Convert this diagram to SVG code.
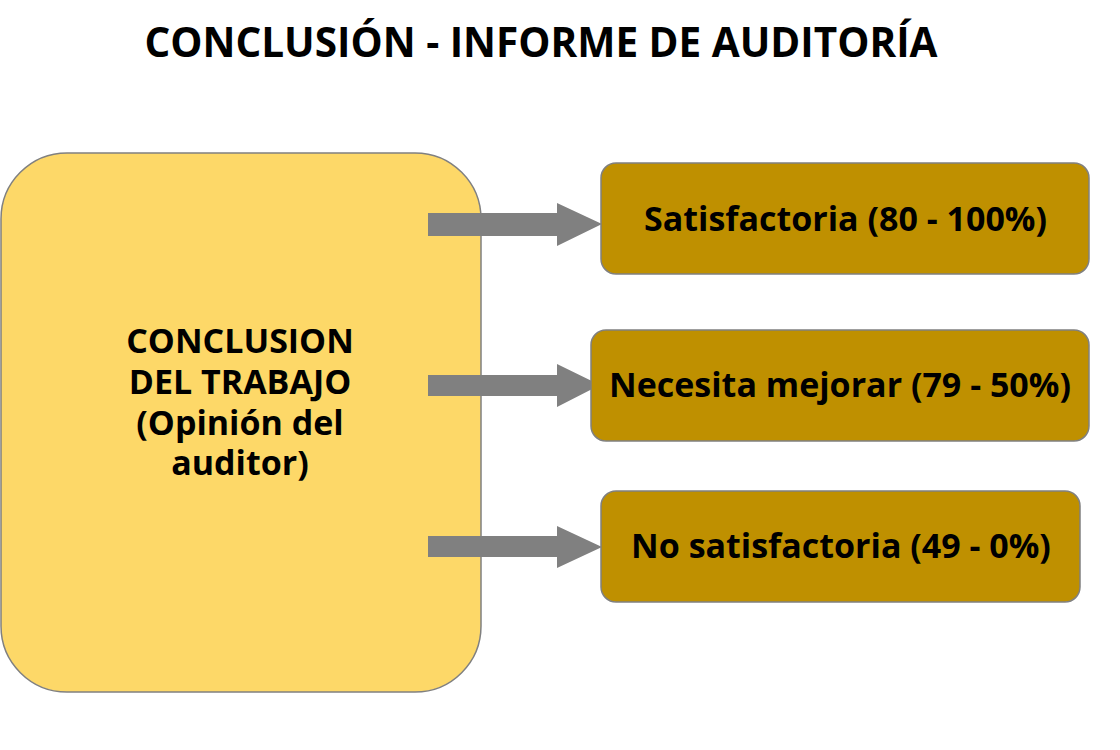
<svg xmlns="http://www.w3.org/2000/svg" width="1120" height="750" viewBox="0 0 1120 750">
<style>
.t{font-family:"Open Sans","Liberation Sans",sans-serif;font-weight:bold;fill:#000;text-anchor:middle}
.main{fill:#fdd868;stroke:#808080;stroke-width:1.5}
.res{fill:#bf9000;stroke:#808080;stroke-width:1.5}
.arr{fill:#808080}
</style>
<rect width="1120" height="750" fill="#fff"/>
<text class="t" x="541" y="57" font-size="40.5">CONCLUSIÓN - INFORME DE AUDITORÍA</text>
<g id="main-node">
<rect class="main" x="1" y="153" width="480" height="539" rx="66" ry="66"/>
<text class="t" x="240" font-size="34"><tspan x="240" y="353">CONCLUSION</tspan><tspan x="240" y="393.5">DEL TRABAJO</tspan><tspan x="240" y="434.5">(Opinión del</tspan><tspan x="240" y="475">auditor)</tspan></text>
</g>
<g id="connectors">
<polygon class="arr" points="428,213 557,213 557,203 602,224 557,246 557,236 428,236"/>
<polygon class="arr" points="428,375 557,375 557,364 600,385 557,407 557,396 428,396"/>
<polygon class="arr" points="428,536 557,536 557,526 602,547 557,568 557,557 428,557"/>
</g>
<g id="node-satisfactoria">
<rect class="res" x="601" y="163" width="488" height="111" rx="15" ry="15"/>
<text class="t" x="845.5" y="231" font-size="34">Satisfactoria (80 - 100%)</text>
</g>
<g id="node-necesita">
<rect class="res" x="591" y="330" width="498" height="111" rx="15" ry="15"/>
<text class="t" x="840" y="397" font-size="34">Necesita mejorar (79 - 50%)</text>
</g>
<g id="node-no-satisfactoria">
<rect class="res" x="601" y="491" width="479" height="111" rx="15" ry="15"/>
<text class="t" x="841" y="558" font-size="34">No satisfactoria (49 - 0%)</text>
</g>
</svg>
